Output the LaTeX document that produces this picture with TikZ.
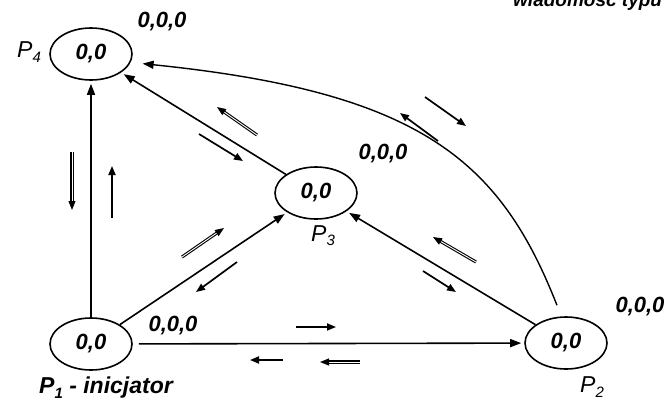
\documentclass[tikz,border=0pt]{standalone}
\usepackage{fontspec}
\setmainfont{Liberation Sans}
\usetikzlibrary{arrows.meta, shapes.geometric, calc}
\tikzset{
  proc/.style={ellipse, draw, line width=1.6pt, minimum width=82pt, minimum height=52pt,
               inner sep=0pt, font=\fontsize{22}{24}\selectfont\bfseries\itshape},
  edge/.style={-{Triangle[length=11pt,width=8pt]}, line width=1.6pt, shorten >=3pt},
  msg/.style={-{Triangle[length=9pt,width=7pt]}, line width=1.7pt},
  dmsg/.style={-{Triangle[length=9pt,width=7pt]}, line width=1.1pt, double, double distance=0.9pt},
  vec/.style={font=\fontsize{22}{24}\selectfont\bfseries\itshape},
  plabel/.style={font=\fontsize{23}{26}\selectfont\itshape},
}
\newcommand{\pname}[1]{P\raisebox{-0.35ex}{\fontsize{15}{16}\selectfont #1}}

\begin{document}
\begin{tikzpicture}[x=1pt, y=-1pt]
  \useasboundingbox (0,0) rectangle (669,405);

  % processes
  \node[proc] (p4) at (91,54) {0,0};
  \node[proc] (p3) at (316,193) {0,0};
  \node[proc] (p1) at (91,344) {0,0};
  \node[proc] (p2) at (566,343) {0,0};

  % names
  \node[plabel] (n4) at (29,52) {\pname{4}};
  \node[plabel] (n3) at (323,236) {\pname{3}};
  \node[plabel, font=\fontsize{23}{26}\selectfont\bfseries\itshape] (n1) at (106,388) {\pname{1} - inicjator};
  \node[plabel] (n2) at (592,387) {\pname{2}};

  % state vectors
  \node[vec] (v4) at (162,22) {0,0,0};
  \node[vec] (v3) at (383,154) {0,0,0};
  \node[vec] (v1) at (173,326) {0,0,0};
  \node[vec] (v2) at (640,307) {0,0,0};

  \node[font=\fontsize{19}{22}\selectfont\bfseries\itshape, anchor=base west, inner sep=0pt] (title) at (513,6) {wiadomość typu};

  % channels
  \draw[edge] (p1) -- (p4);
  \draw[edge] (p1) -- (p3);
  \draw[edge, shorten <=6pt] (p1) -- (p2);
  \draw[edge] (p3) -- (p4);
  \draw[edge] (p2) -- (p3);
  \draw[edge, line width=1.4pt, shorten <=12pt, shorten >=12pt] (p2.100) .. controls (500,160) and (420,92) .. (p4.-12);

  % messages in transit
  \draw[dmsg] (72,152) -- (72,210);
  \draw[msg] (112,218) -- (112,166);
  \draw[dmsg] (257,135) -- (217,107);
  \draw[msg] (199,134) -- (243,161);
  \draw[dmsg] (182,257) -- (224,228);
  \draw[msg] (237,262) -- (196,292);
  \draw[msg] (296,327) -- (336,327);
  \draw[msg] (283,360) -- (250,360);
  \draw[dmsg] (360,362) -- (320,362);
  \draw[dmsg] (476,262) -- (433,237);
  \draw[msg] (423,271) -- (456,292);
  \draw[msg] (425,97) -- (466,126);
  \draw[msg] (438,141) -- (400,113);
\end{tikzpicture}
\end{document}
